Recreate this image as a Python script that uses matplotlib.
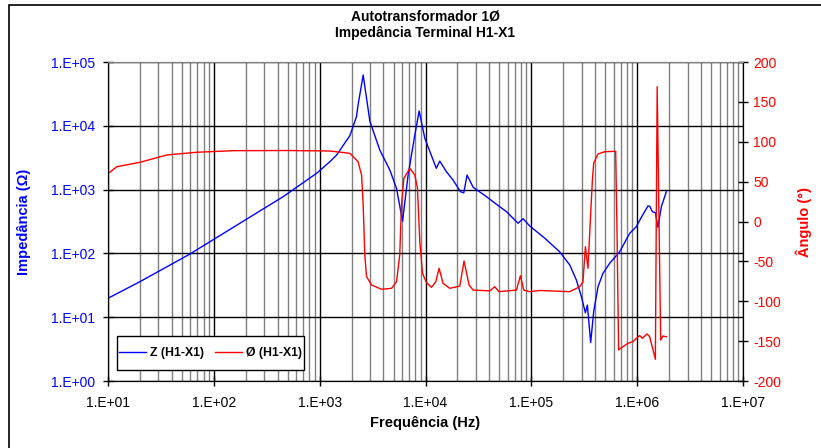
"""
Autotransformer 1-phase: impedance magnitude and phase at terminal H1-X1.
"""
import math

import matplotlib
matplotlib.use("Agg")
import matplotlib.pyplot as plt
from matplotlib.ticker import FixedLocator, FuncFormatter, NullFormatter, LogLocator
from matplotlib.patches import Rectangle

# impedance magnitude |Z| (ohm) vs frequency (Hz)
freq_z = [10, 20.0, 59.4, 272, 452, 935, 1248, 1445, 1928, 2228, 2306, 2577,
          2980, 3700, 4600, 5320, 6070, 6850, 7930, 8710, 9850, 12650, 13650,
          15780, 18230, 21400, 23000, 24700, 28200, 37700, 46100, 58200,
          74900, 83500, 96600, 134000, 185000, 230700, 266700, 297300,
          324300, 338600, 363700, 388200, 426500, 475300, 549600, 683500,
          849600, 982500, 1.095e6, 1.265e6, 1.313e6, 1.392e6, 1.486e6,
          1.571e6, 1.692e6, 1.887e6]
z_mag = [19.8, 36, 97.7, 462, 774, 1800, 2735, 3480, 7000, 13900, 21200,
         62500, 11800, 4170, 2030, 1050, 320, 1690, 7180, 17100, 6370, 2160,
         2800, 1900, 1410, 927, 890, 1690, 1087, 774, 600, 451, 297, 350,
         269, 173, 106, 66, 38, 21, 11.7, 15.5, 4.0, 12.2, 30, 48.7, 70, 106,
         206, 263, 368, 553, 550, 451, 434, 257, 540, 927]

# phase angle (degrees) vs frequency (Hz)
freq_ang = [10, 12.1, 20.0, 35.8, 68.8, 152, 500, 1248, 1928, 2306, 2490,
            2577, 2670, 2770, 3090, 3840, 4780, 5320, 5710, 5930, 6240, 7110,
            7930, 8400, 8830, 9370, 10220, 11390, 12510, 13440, 14650, 16960,
            21080, 23140, 25800, 28200, 40460, 45110, 49550, 72300, 78900,
            84800, 96600, 120000, 230700, 286600, 307700, 324300, 343000,
            363700, 377600, 388200, 426500, 493000, 626600, 644600, 668000,
            734000, 818700, 912600, 982500, 1.057e6, 1.12e6, 1.238e6,
            1.313e6, 1.486e6, 1.545e6, 1.668e6, 1.753e6, 1.887e6]
ang = [60, 68.7, 74.2, 83.4, 86.8, 88.8, 89, 88.4, 85.5, 75, 58, 20.7, -42,
       -69, -79.6, -85, -83.8, -75.5, -42, 20.7, 54, 66.7, 58.3, 41.6, -25,
       -65, -76.7, -82.5, -75.5, -58.7, -77.5, -83.8, -81, -49.5, -79.6,
       -86, -87, -81.8, -88, -86, -68, -86, -88, -86.5, -88, -81.8, -75.5,
       -31.6, -58.7, 10, 52, 73, 84.6, 87.5, 88, -10, -161, -157, -152.7,
       -150.7, -146.5, -143, -146.5, -141, -144.5, -172.8, 169, -148.6,
       -143.6, -144.5]

BLUE = '#0000ff'
RED = '#ff0000'

plt.rcParams['font.family'] = ['Liberation Sans', 'DejaVu Sans']
plt.rcParams['axes.unicode_minus'] = False

W, H = 821, 448
fig = plt.figure(figsize=(W / 100, H / 100), dpi=100)
ax = fig.add_axes([108 / W, 1 - 381 / H, (743 - 108) / W, (381 - 62) / H])
ax2 = ax.twinx()

# chart area border (only top/left fall inside the picture)
fig.patches.append(Rectangle((9 / W, -0.1), 1.2, 1 - 5 / H + 0.1,
                             transform=fig.transFigure, fill=False,
                             edgecolor='black', lw=1.2))

line_z, = ax.plot(freq_z, z_mag, color=BLUE, lw=1.0)
line_a, = ax2.plot(freq_ang, ang, color=RED, lw=1.0)

ax.set_xscale('log')
ax.set_yscale('log')
ax.set_xlim(10, 1e7)
ax.set_ylim(1, 1e5)
ax2.set_ylim(-200, 200)

exp_fmt = FuncFormatter(lambda v, p: "1.E+%02d" % round(math.log10(v)))
ax.xaxis.set_major_locator(FixedLocator([10 ** k for k in range(1, 8)]))
ax.xaxis.set_minor_locator(LogLocator(base=10, subs=range(2, 10), numticks=20))
ax.xaxis.set_major_formatter(exp_fmt)
ax.xaxis.set_minor_formatter(NullFormatter())
ax.yaxis.set_major_locator(FixedLocator([10 ** k for k in range(0, 6)]))
ax.yaxis.set_minor_locator(FixedLocator([]))
ax.yaxis.set_major_formatter(exp_fmt)
ax2.yaxis.set_major_locator(FixedLocator(range(-200, 201, 50)))

ax.grid(which='major', axis='both', color='black', lw=1.0)
ax.grid(which='minor', axis='x', color='#808080', lw=1.0)

ax.tick_params(axis='both', which='major', direction='inout', length=7,
               width=1, labelsize=10, color='black')
ax.tick_params(axis='x', which='major', pad=7)
ax.tick_params(axis='y', which='major', pad=6, labelcolor=BLUE)
ax.tick_params(axis='x', which='minor', length=0)
ax2.tick_params(axis='y', direction='inout', length=7, width=1, pad=4,
                labelsize=10, labelcolor=RED)

for a in (ax, ax2):
    a.spines['top'].set_color('#808080')
    for s in ('left', 'right', 'bottom'):
        a.spines[s].set_color('black')

ax.set_ylabel('Impedância (Ω)', color=BLUE, fontweight='bold', fontsize=10.5)
ax.yaxis.set_label_coords((31 - 108) / 635, 0.5)
ax2.set_ylabel('Ângulo (°)', color=RED, fontweight='bold', fontsize=10.5)
ax2.yaxis.set_label_coords((795 - 108) / 635, 0.5)
ax.set_xlabel('Frequência (Hz)', fontweight='bold', fontsize=10.5)
ax.xaxis.set_label_coords(0.5, (381 - 416) / 319)

fig.text(425 / W, 1 - 25 / H, 'Autotransformador 1Ø\nImpedância Terminal H1-X1',
         ha='center', va='center', fontsize=10, fontweight='bold',
         linespacing=1.2)

# legend box drawn separately so its size matches the reference
ax2.add_patch(Rectangle((117 / W, 1 - 370 / H), (304 - 117) / W, 34 / H,
                        transform=fig.transFigure, facecolor='white',
                        edgecolor='black', lw=1.0, zorder=4.5, clip_on=False))
leg = ax2.legend([line_z, line_a], ['Z (H1-X1)', 'Ø (H1-X1)'], ncol=2,
                 loc='center', bbox_to_anchor=(210.5 / W, 1 - 353 / H),
                 bbox_transform=fig.transFigure, borderaxespad=0,
                 frameon=False, prop={'weight': 'bold', 'size': 8.8},
                 handlelength=2.2, handletextpad=0.3, columnspacing=0.9,
                 borderpad=0.2)

fig.savefig('out.png', dpi=100)
